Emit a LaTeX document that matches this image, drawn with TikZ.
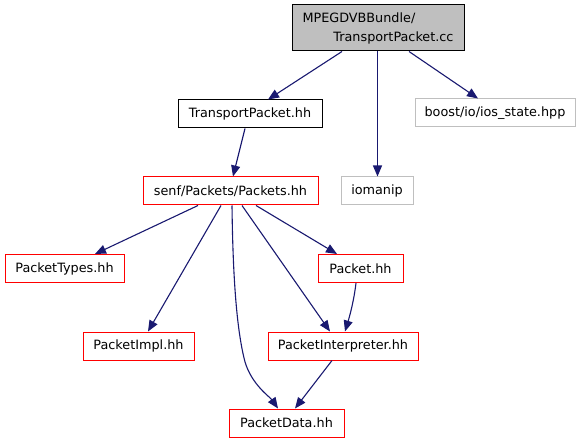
\documentclass[tikz,border=0pt]{standalone}
\usepackage{fontspec}
\setmainfont{DejaVu Sans}
\usetikzlibrary{arrows.meta}
\definecolor{edgec}{HTML}{191970}
\definecolor{greyc}{HTML}{BFBFBF}
\definecolor{redc}{HTML}{FF0000}
\tikzset{
  box/.style={draw, line width=1pt, inner sep=0pt, font=\fontsize{12.8}{15}\selectfont},
  redbox/.style={box, draw=redc},
  greybox/.style={box, draw=greyc},
  blackbox/.style={box, draw=black},
  edge/.style={draw=edgec, line width=1.1pt, -{Triangle[length=11pt,width=9pt]}},
}
\begin{document}
\begin{tikzpicture}[x=1pt,y=-1pt]
\useasboundingbox (0,0) rectangle (583,443);
\node[blackbox, fill=greyc, minimum width=172pt, minimum height=46pt, text width=151pt, align=left, font=\fontsize{12.8}{19}\selectfont] (top) at (378,28)
  {MPEGDVBBundle/\\\hspace*{\fill}TransportPacket.cc};
\node[blackbox, minimum width=144pt, minimum height=28pt] (tp) at (250,114) {TransportPacket.hh};
\node[greybox, minimum width=160pt, minimum height=28pt] (boost) at (495,113) {boost/io/ios\_state.hpp};
\node[greybox, minimum width=72pt, minimum height=28pt] (iom) at (377,191) {iomanip};
\node[redbox, minimum width=175pt, minimum height=28pt] (senf) at (230.5,191) {senf/Packets/Packets.hh};
\node[redbox, minimum width=119pt, minimum height=28pt] (types) at (64.5,268.5) {PacketTypes.hh};
\node[redbox, minimum width=85pt, minimum height=28pt] (packet) at (360.5,268.5) {Packet.hh};
\node[redbox, minimum width=111pt, minimum height=28pt] (impl) at (138.5,346) {PacketImpl.hh};
\node[redbox, minimum width=150pt, minimum height=28pt] (interp) at (343,346) {PacketInterpreter.hh};
\node[redbox, minimum width=115pt, minimum height=28pt] (data) at (286.5,423) {PacketData.hh};

\draw[edge] ([xshift=-36pt]top.south) -- ([xshift=18pt]tp.north);
\draw[edge] ([xshift=-0.5pt]top.south) -- ([xshift=0.5pt]iom.north);
\draw[edge] ([xshift=31pt]top.south) -- ([xshift=-17pt]boost.north);
\draw[edge] ([xshift=-5pt]tp.south) -- ([xshift=2.5pt]senf.north);
\draw[edge] ([xshift=-32.5pt]senf.south) -- ([xshift=30.5pt]types.north);
\draw[edge] ([xshift=-9.5pt]senf.south) -- ([xshift=9.5pt]impl.north);
\draw[edge] ([xshift=1.5pt]senf.south) .. controls (233,290) and (238,335) .. (245,362)
  .. controls (252,385) and (270,397) .. ([xshift=-8.5pt]data.north);
\draw[edge] ([xshift=11.5pt]senf.south) -- ([xshift=-13pt]interp.north);
\draw[edge] ([xshift=25.5pt]senf.south) -- ([xshift=-23.5pt]packet.north);
\draw[edge] ([xshift=-4.5pt]packet.south) .. controls (354,300) and (350,315) .. ([xshift=2pt]interp.north);
\draw[edge] ([xshift=-11pt]interp.south) -- ([xshift=8.5pt]data.north);
\end{tikzpicture}
\end{document}
